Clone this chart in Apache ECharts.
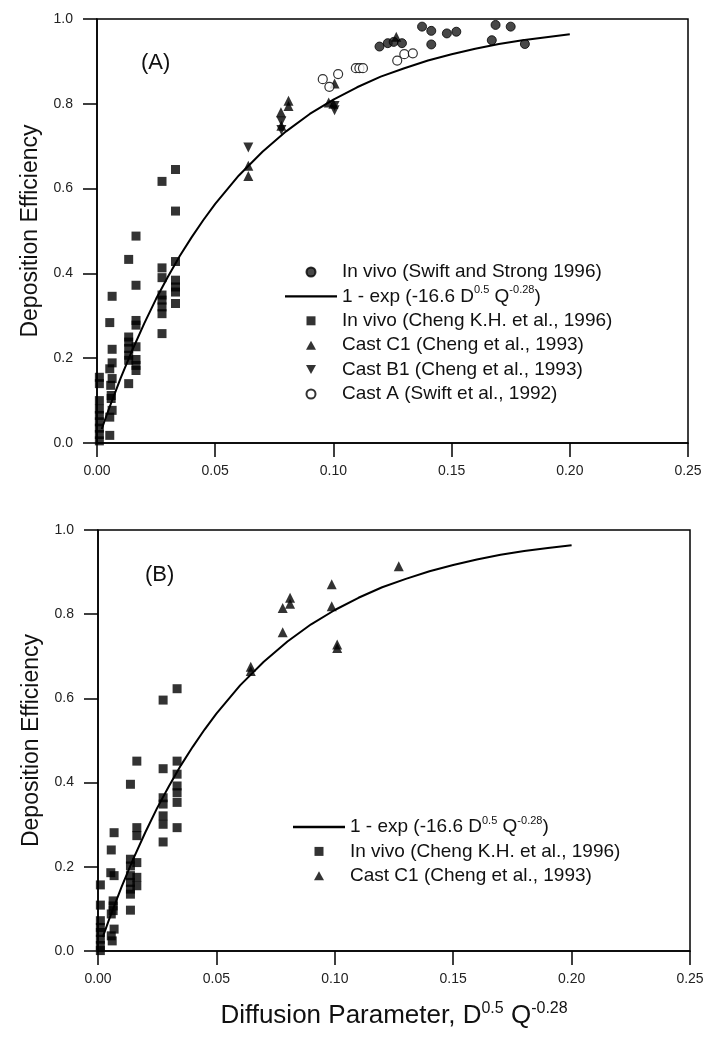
<!DOCTYPE html>
<html>
<head>
<meta charset="utf-8">
<script src="https://cdn.jsdelivr.net/npm/echarts@6/dist/echarts.min.js"></script>
<style>
html,body{margin:0;padding:0;background:#fff;}
#chart{width:725px;height:1039px;}
</style>
</head>
<body>
<div id="chart"></div>
<script>
// ---------- data ----------
const xTickLabels = ['0.00','0.05','0.10','0.15','0.20','0.25'];
const yTickLabels = ['0.0','0.2','0.4','0.6','0.8','1.0'];

// fitted curve 1 - exp(-16.6 D^0.5 Q^-0.28)
const curveX = [0.002,0.005,0.010,0.015,0.020,0.025,0.030,0.035,0.040,0.045,0.050,0.060,0.070,0.080,0.090,0.100,
  0.110,0.120,0.130,0.140,0.150,0.160,0.170,0.180,0.190,0.200];
const curveY = [0.033,0.080,0.153,0.220,0.282,0.340,0.392,0.441,0.485,0.526,0.564,0.631,0.687,0.735,0.776,0.810,
  0.839,0.864,0.884,0.902,0.917,0.930,0.941,0.950,0.957,0.964];

// Panel A
const swiftStrongA = [[0.1195,0.935],[0.123,0.943],[0.1255,0.946],[0.129,0.943],[0.1375,0.982],[0.1414,0.972],[0.1414,0.940],
  [0.148,0.966],[0.152,0.970],[0.167,0.950],[0.1686,0.986],[0.175,0.982],[0.181,0.941]];
const chengA = [
  [0.001,0.155],[0.001,0.14],[0.001,0.10],[0.001,0.08],[0.001,0.065],[0.001,0.05],[0.001,0.035],[0.001,0.02],[0.001,0.005],
  [0.0064,0.346],[0.0054,0.284],[0.0064,0.221],[0.0064,0.189],[0.0054,0.175],[0.0064,0.152],[0.0058,0.136],[0.006,0.112],
  [0.006,0.105],[0.0064,0.077],[0.0054,0.061],[0.0054,0.018],
  [0.0134,0.433],[0.0134,0.25],[0.0134,0.238],[0.0134,0.223],[0.0134,0.207],[0.0134,0.195],[0.0134,0.14],
  [0.0165,0.488],[0.0165,0.372],[0.0165,0.289],[0.0165,0.278],[0.0165,0.227],[0.0165,0.197],[0.0165,0.183],[0.0165,0.171],
  [0.0275,0.617],[0.0275,0.413],[0.0275,0.39],[0.0275,0.349],[0.0275,0.337],[0.0275,0.321],[0.0275,0.305],[0.0275,0.258],
  [0.0332,0.645],[0.0332,0.547],[0.0332,0.428],[0.0332,0.384],[0.0332,0.368],[0.0332,0.356],[0.0332,0.329]];
const castC1A = [[0.064,0.654],[0.064,0.630],[0.0778,0.78],[0.078,0.748],[0.081,0.807],[0.081,0.795],[0.098,0.803],
  [0.100,0.80],[0.1005,0.848],[0.1266,0.958]];
const castB1A = [[0.064,0.697],[0.078,0.758],[0.078,0.738],[0.1005,0.795],[0.1005,0.785]];
const castAA = [[0.0955,0.858],[0.0983,0.84],[0.102,0.870],[0.1095,0.884],[0.111,0.884],[0.1125,0.884],
  [0.127,0.902],[0.130,0.917],[0.1336,0.919]];

// Panel B
const chengB = [
  [0.001,0.157],[0.001,0.109],[0.001,0.072],[0.001,0.056],[0.001,0.044],[0.001,0.028],[0.001,0.013],[0.001,0.001],
  [0.0068,0.281],[0.0056,0.240],[0.0054,0.186],[0.0068,0.179],[0.0064,0.119],[0.0064,0.107],[0.0064,0.096],[0.0056,0.088],
  [0.0068,0.052],[0.0056,0.036],[0.006,0.024],
  [0.0137,0.396],[0.0137,0.218],[0.0137,0.202],[0.0137,0.179],[0.0137,0.163],[0.0137,0.147],[0.0137,0.135],[0.0137,0.097],
  [0.0164,0.451],[0.0164,0.293],[0.0164,0.274],[0.0164,0.210],[0.0164,0.175],[0.0164,0.155],
  [0.0275,0.596],[0.0275,0.433],[0.0275,0.364],[0.0275,0.349],[0.0275,0.321],[0.0275,0.301],[0.0275,0.259],
  [0.0334,0.623],[0.0334,0.451],[0.0334,0.420],[0.0334,0.392],[0.0334,0.376],[0.0334,0.353],[0.0334,0.293]];
const castC1B = [[0.0645,0.675],[0.0645,0.665],[0.078,0.815],[0.078,0.757],[0.0811,0.839],[0.0811,0.825],
  [0.0987,0.871],[0.0987,0.819],[0.101,0.728],[0.101,0.720],[0.127,0.914]];

// series names
const N_SWIFT = 'In vivo (Swift and Strong 1996)';
const N_CURVE = '1 - exp (-16.6 D0.5 Q-0.28)';
const N_CHENG = 'In vivo (Cheng K.H. et al., 1996)';
const N_C1 = 'Cast C1 (Cheng et al., 1993)';
const N_B1 = 'Cast B1 (Cheng et al., 1993)';
const N_CA = 'Cast A (Swift et al., 1992)';

// ---------- chart ----------
const FONT = '"Liberation Sans", Arial, Helvetica, sans-serif';
const curveData = curveX.map((x, i) => [x, curveY[i]]);
const downTri = 'path://M0,0 L10,0 L5,9 Z';
const upTri = 'path://M5,0 L10,9 L0,9 Z';
const square = 'path://M0,0 L10,0 L10,10 L0,10 Z';
const lineIcon = 'path://M0,0 L46,0 L46,2 L0,2 Z';

function xAxis(gi, withName) {
  const ax = {
    type: 'value', gridIndex: gi, min: 0, max: 0.25, interval: 0.05,
    axisLine: {show: true, onZero: false, lineStyle: {color: '#000', width: 1.5}},
    axisTick: {show: true, inside: false, length: 14, lineStyle: {color: '#000', width: 1.5}},
    axisLabel: {margin: 21, fontSize: 14, color: '#222', fontFamily: FONT,
      formatter: v => xTickLabels[Math.round(v / 0.05)]},
    splitLine: {show: false}
  };
  if (withName) {
    ax.name = 'Diffusion Parameter, D{sup|0.5} Q{sup|-0.28}';
    ax.nameLocation = 'middle';
    ax.nameGap = 50;
    ax.nameTextStyle = {fontSize: 26, color: '#111', fontFamily: FONT, lineHeight: 30,
      rich: {sup: {fontSize: 16, fontFamily: FONT, color: '#111', verticalAlign: 'top', lineHeight: 13}}};
  }
  return ax;
}
function yAxis(gi) {
  return {
    type: 'value', gridIndex: gi, min: 0, max: 1, interval: 0.2,
    name: 'Deposition Efficiency', nameLocation: 'middle', nameGap: 55,
    nameTextStyle: {fontSize: 23, color: '#111', fontFamily: FONT},
    axisLine: {show: true, onZero: false, lineStyle: {color: '#000', width: 1.5}},
    axisTick: {show: true, inside: false, length: 14, lineStyle: {color: '#000', width: 1.5}},
    axisLabel: {margin: 24, fontSize: 14, color: '#222', fontFamily: FONT,
      formatter: v => yTickLabels[Math.round(v / 0.2)]},
    splitLine: {show: false}
  };
}
function curveSeries(i) {
  return {name: N_CURVE, type: 'line', xAxisIndex: i, yAxisIndex: i, data: curveData,
    smooth: false, symbol: 'none', lineStyle: {color: '#000', width: 2, join: 'round'}, itemStyle: {color: '#000'}, z: 2};
}
function scatter(name, i, data, symbol, size, style) {
  return {name, type: 'scatter', xAxisIndex: i, yAxisIndex: i, data, symbol, symbolSize: size,
    itemStyle: style, z: 3};
}
const filled = {color: '#000'};
const legendText = {fontSize: 19, color: '#111', fontFamily: FONT, lineHeight: 24,
  rich: {sup: {fontSize: 11, fontFamily: FONT, color: '#111', verticalAlign: 'top', lineHeight: 14}}};
const legendFmt = name => name === N_CURVE ? '1 - exp (-16.6 D{sup|0.5} Q{sup|-0.28})' : name;

const option = {
  animation: false,
  backgroundColor: '#fff',
  grid: [
    {left: 97, top: 19, right: 37, bottom: 596, show: true, borderColor: '#000', borderWidth: 1.5, backgroundColor: 'transparent'},
    {left: 98, top: 530, right: 35, bottom: 88, show: true, borderColor: '#000', borderWidth: 1.5, backgroundColor: 'transparent'}
  ],
  xAxis: [xAxis(0, false), xAxis(1, true)],
  yAxis: [yAxis(0), yAxis(1)],
  legend: [
    {orient: 'vertical', left: 285, top: 260, padding: 0, itemGap: 0.4, itemWidth: 52, itemHeight: 9,
      symbolKeepAspect: true,
      data: [N_SWIFT, {name: N_CURVE, icon: lineIcon}, {name: N_CHENG, icon: square}, {name: N_C1, icon: upTri},
        {name: N_B1, icon: downTri}, N_CA],
      textStyle: legendText, formatter: legendFmt, selectedMode: false},
    {orient: 'vertical', left: 293, top: 815, padding: 0, itemGap: 0.4, itemWidth: 52, itemHeight: 9,
      symbolKeepAspect: true,
      data: [{name: N_CURVE, icon: lineIcon}, {name: N_CHENG, icon: square}, {name: N_C1, icon: upTri}],
      textStyle: legendText, formatter: legendFmt, selectedMode: false}
  ],
  graphic: [
    {type: 'text', left: 141, top: 52, style: {text: '(A)', fontSize: 22, fill: '#111', fontFamily: FONT}},
    {type: 'text', left: 145, top: 564, style: {text: '(B)', fontSize: 22, fill: '#111', fontFamily: FONT}}
  ],
  series: [
    scatter(N_SWIFT, 0, swiftStrongA, 'circle', 9, {color: '#1a1a1a', borderColor: '#000', borderWidth: 1}),
    curveSeries(0),
    scatter(N_CHENG, 0, chengA, 'rect', 9, filled),
    scatter(N_C1, 0, castC1A, 'triangle', 10, filled),
    scatter(N_B1, 0, castB1A, downTri, 10, filled),
    scatter(N_CA, 0, castAA, 'circle', 9, {color: '#fff', borderColor: '#000', borderWidth: 1.2}),
    curveSeries(1),
    scatter(N_CHENG, 1, chengB, 'rect', 9, filled),
    scatter(N_C1, 1, castC1B, 'triangle', 10, filled)
  ]
};
const chart = echarts.init(document.getElementById('chart'), null, {renderer: 'canvas'});
chart.setOption(option);
</script>
</body>
</html>
